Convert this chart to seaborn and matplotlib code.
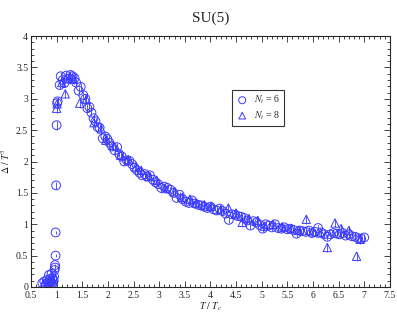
import matplotlib
matplotlib.use("Agg")
import matplotlib.pyplot as plt
import numpy as np
import pandas as pd
import seaborn as sns
from matplotlib.ticker import MultipleLocator

# N_t = 6 (circles): T/Tc, Delta/T^3, error
T6 = [0.72, 0.76, 0.79, 0.81, 0.83, 0.85, 0.86, 0.87, 0.89, 0.90, 0.91, 0.92, 0.94, 0.95,
      0.96, 0.97, 0.97, 0.98, 0.98, 0.99, 1.00, 1.01, 1.02, 1.06, 1.08, 1.12, 1.15, 1.19,
      1.23, 1.27, 1.31, 1.35, 1.38, 1.43, 1.47, 1.52, 1.56, 1.60, 1.64, 1.68, 1.72, 1.76,
      1.80, 1.84, 1.90, 1.95, 1.99, 2.03, 2.08, 2.13, 2.18, 2.22, 2.27, 2.32, 2.37, 2.42,
      2.47, 2.52, 2.57, 2.62, 2.67, 2.72, 2.77, 2.82, 2.88, 2.93, 2.98, 3.04, 3.10, 3.16,
      3.22, 3.28, 3.34, 3.40, 3.46, 3.52, 3.58, 3.64, 3.70, 3.76, 3.82, 3.88, 3.94, 4.00,
      4.06, 4.12, 4.18, 4.24, 4.30, 4.36, 4.42, 4.48, 4.54, 4.60, 4.66, 4.72, 4.78, 4.84,
      4.90, 4.96, 5.02, 5.08, 5.14, 5.20, 5.26, 5.32, 5.38, 5.44, 5.50, 5.56, 5.62, 5.68,
      5.74, 5.80, 5.86, 5.92, 5.98, 6.04, 6.10, 6.16, 6.22, 6.28, 6.34, 6.40, 6.46, 6.52,
      6.58, 6.64, 6.70, 6.76, 6.82, 6.88, 6.94, 7.00]
D6 = [0.06, 0.09, 0.04, 0.11, 0.07, 0.19, 0.03, 0.13, 0.09, 0.21, 0.05, 0.14, 0.11, 0.17,
      0.27, 0.31, 0.35, 0.50, 0.87, 1.62, 2.58, 2.93, 2.96, 3.22, 3.36, 3.30, 3.25, 3.37,
      3.32, 3.38, 3.36, 3.33, 3.26, 3.13, 3.19, 3.06, 3.00, 2.85, 2.87, 2.78, 2.69, 2.64,
      2.55, 2.54, 2.37, 2.40, 2.36, 2.30, 2.24, 2.18, 2.23, 2.12, 2.08, 2.00, 2.02, 2.01,
      1.96, 1.90, 1.86, 1.82, 1.78, 1.80, 1.76, 1.78, 1.71, 1.67, 1.64, 1.58, 1.60, 1.58,
      1.55, 1.50, 1.42, 1.47, 1.40, 1.36, 1.34, 1.38, 1.33, 1.31, 1.30, 1.28, 1.26, 1.28,
      1.24, 1.22, 1.25, 1.21, 1.17, 1.07, 1.16, 1.15, 1.13, 1.12, 1.10, 1.06, 0.98, 1.05,
      1.03, 0.99, 0.93, 1.00, 0.98, 0.95, 1.00, 0.94, 0.93, 0.95, 0.92, 0.93, 0.91, 0.85,
      0.90, 0.89, 0.88, 0.90, 0.86, 0.88, 0.94, 0.87, 0.84, 0.80, 0.84, 0.86, 0.85, 0.84,
      0.86, 0.82, 0.84, 0.81, 0.80, 0.78, 0.77, 0.79]
E6 = [0.02] * 19 + [0.06, 0.07, 0.07, 0.07] + [0.06] * 28 + [0.05] * 83

# N_t = 8 (triangles)
T8 = [0.75, 0.82, 0.86, 0.88, 0.90, 0.92, 0.95, 1.00, 1.01, 1.10, 1.17, 1.25, 1.33, 1.45,
      1.58, 1.73, 1.87, 1.96, 2.10, 2.25, 2.40, 2.55, 2.65, 2.80, 2.95, 3.12, 3.30, 3.45,
      3.60, 3.72, 3.88, 4.02, 4.20, 4.35, 4.50, 4.62, 4.75, 4.92, 5.05, 5.22, 5.40, 5.58,
      5.72, 5.87, 6.00, 6.15, 6.28, 6.43, 6.55, 6.70, 6.85, 6.92]
D8 = [0.05, 0.06, 0.10, 0.03, 0.13, 0.08, 0.15, 2.85, 2.92, 3.26, 3.08, 3.33, 3.31, 2.93,
      2.99, 2.62, 2.52, 2.34, 2.26, 2.10, 2.03, 1.92, 1.86, 1.76, 1.70, 1.57, 1.52, 1.43,
      1.40, 1.34, 1.31, 1.29, 1.23, 1.26, 1.18, 1.03, 1.09, 1.06, 0.97, 1.00, 0.96, 0.93,
      0.90, 1.08, 0.88, 0.86, 0.63, 1.02, 0.93, 0.90, 0.49, 0.76]
E8 = [0.02] * 7 + [0.08] * 2 + [0.07] * 43

blue = "#3a3aff"

sns.set_style("ticks")
plt.rcParams["font.family"] = ["Liberation Serif", "DejaVu Serif"]
plt.rcParams["mathtext.fontset"] = "stix"

df6 = pd.DataFrame({"T": T6, "D": D6, "E": E6})
df8 = pd.DataFrame({"T": T8, "D": D8, "E": E8})

fig = plt.figure(figsize=(3.97, 3.14), dpi=100)
ax = fig.add_axes([0.078, 0.086, 0.904, 0.799])

ax.errorbar(df6["T"], df6["D"], yerr=df6["E"], fmt="none", ecolor=blue,
            elinewidth=0.6, capsize=0, zorder=2)
ax.errorbar(df8["T"], df8["D"], yerr=df8["E"], fmt="none", ecolor=blue,
            elinewidth=0.6, capsize=0, zorder=2)
sns.scatterplot(data=df6, x="T", y="D", marker="o", s=40, facecolor="none",
                edgecolor=blue, linewidth=0.7, ax=ax, label=r"$N_t$ = 6", zorder=3)
sns.scatterplot(data=df8, x="T", y="D", marker="^", s=36, facecolor="none",
                edgecolor=blue, linewidth=0.7, ax=ax, label=r"$N_t$ = 8", zorder=3)

ax.set_xlim(0.5, 7.5)
ax.set_ylim(0, 4)
ax.xaxis.set_major_locator(MultipleLocator(0.5))
ax.xaxis.set_minor_locator(MultipleLocator(0.1))
ax.yaxis.set_major_locator(MultipleLocator(0.5))
ax.yaxis.set_minor_locator(MultipleLocator(0.1))
ax.set_xticks(ax.get_xticks())
ax.set_xticklabels([f"{v:g}" for v in ax.get_xticks()])
ax.set_yticks(ax.get_yticks())
ax.set_yticklabels([f"{v:g}" for v in ax.get_yticks()])
ax.set_xlim(0.5, 7.5)
ax.set_ylim(0, 4)
ax.tick_params(which="both", direction="in", top=True, right=True, labelsize=7,
               width=0.6)
ax.tick_params(axis="x", pad=3)
ax.tick_params(axis="y", pad=2)
ax.tick_params(which="major", length=4)
ax.tick_params(which="minor", length=2)
for s in ax.spines.values():
    s.set_linewidth(0.8)

ax.set_xlabel(r"$T\ /\ T_c$", fontsize=7, labelpad=0)
ax.set_ylabel(r"$\Delta\ /\ T^3$", fontsize=7, labelpad=3)
ax.set_title("SU(5)", fontsize=11, pad=10)

leg = ax.legend(loc="upper left", bbox_to_anchor=(0.548, 0.805), fontsize=7,
                frameon=True, fancybox=False, handletextpad=0.6, borderpad=0.4,
                labelspacing=0.3, handlelength=1.2, markerscale=0.8)
leg.get_frame().set_edgecolor("black")
leg.get_frame().set_linewidth(0.8)

fig.savefig("out.png", dpi=100)
